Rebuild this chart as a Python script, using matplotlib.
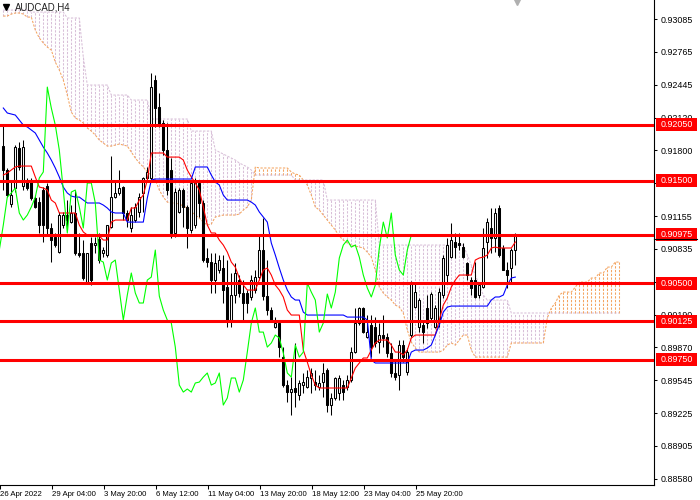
import numpy as np
import matplotlib
matplotlib.use("Agg")
import matplotlib.pyplot as plt
from matplotlib.patches import Rectangle

plt.rcParams['font.family'] = ['Liberation Sans', 'DejaVu Sans']

# === DATA (AUDCAD H4) ===
symbol = "AUDCAD,H4"

opens = [
    0.91842, 0.91607, 0.91274, 0.91431, 0.91823, 0.91450, 0.91490, 0.91509, 0.91333, 0.91293,
    0.91411, 0.91450, 0.91039, 0.90950, 0.90803, 0.91068, 0.91166, 0.91097, 0.91186, 0.90794,
    0.90794, 0.90509, 0.90892, 0.90872, 0.90931, 0.90794, 0.90774, 0.91048, 0.91342, 0.91382,
    0.91440, 0.91186, 0.91039, 0.91117, 0.91196, 0.91382, 0.91529, 0.91529, 0.92489, 0.92224,
    0.92068, 0.91803, 0.91607, 0.90990, 0.91196, 0.91411, 0.91245, 0.91019, 0.91068, 0.91480,
    0.91284, 0.90745, 0.90705, 0.90529, 0.90627, 0.90647, 0.90460, 0.90137, 0.90382, 0.90529,
    0.90402, 0.90402, 0.90363, 0.90431, 0.90558, 0.90823, 0.90372, 0.90235, 0.90068, 0.90108,
    0.89774, 0.89500, 0.89431, 0.89471, 0.89402, 0.89500, 0.89480, 0.89569, 0.89529, 0.89480,
    0.89529, 0.89647, 0.89304, 0.89373, 0.89422, 0.89500, 0.89480, 0.89549, 0.89823, 0.90108,
    0.90255, 0.89970, 0.90088, 0.90068, 0.89921, 0.89990, 0.89970, 0.89814, 0.89618, 0.89598,
    0.89892, 0.89627, 0.89990, 0.90264, 0.90068, 0.90088, 0.90255, 0.90157, 0.90068, 0.90117,
    0.90382, 0.90578, 0.90754, 0.90901, 0.90892, 0.90852, 0.90696, 0.90529, 0.90529, 0.90382,
    0.90460, 0.90901, 0.91039, 0.90941, 0.91235, 0.90843, 0.90627, 0.90647, 0.90823,
]
highs = [
    0.92038, 0.91627, 0.91509, 0.91852, 0.91881, 0.91901, 0.91529, 0.91529, 0.91362, 0.91342,
    0.91440, 0.91480, 0.91088, 0.90990, 0.91196, 0.91196, 0.91313, 0.91264, 0.91411, 0.90990,
    0.90921, 0.90794, 0.90950, 0.90950, 0.90990, 0.90852, 0.91068, 0.91744, 0.91509, 0.91607,
    0.91450, 0.91215, 0.91245, 0.91284, 0.91382, 0.91539, 0.91637, 0.92558, 0.92538, 0.92362,
    0.92097, 0.92068, 0.91725, 0.91431, 0.91431, 0.91431, 0.91264, 0.91509, 0.91529, 0.91509,
    0.91313, 0.90843, 0.90794, 0.90794, 0.90774, 0.90774, 0.90725, 0.90598, 0.90696, 0.90578,
    0.90529, 0.90431, 0.90578, 0.90627, 0.90970, 0.91137, 0.90725, 0.90264, 0.90166, 0.90137,
    0.89872, 0.89549, 0.89578, 0.89912, 0.89549, 0.89618, 0.89647, 0.89667, 0.89647, 0.89598,
    0.89716, 0.89667, 0.89422, 0.89578, 0.89598, 0.89549, 0.89598, 0.89872, 0.90255, 0.90264,
    0.90264, 0.90186, 0.90186, 0.90166, 0.90108, 0.90186, 0.90010, 0.89912, 0.89745, 0.89941,
    0.89941, 0.89863, 0.90519, 0.90509, 0.90353, 0.90117, 0.90382, 0.90411, 0.90284, 0.90451,
    0.90774, 0.90941, 0.91088, 0.90990, 0.90990, 0.90892, 0.90705, 0.90558, 0.90705, 0.90509,
    0.91039, 0.91137, 0.91235, 0.91235, 0.91264, 0.90872, 0.90705, 0.90843, 0.90990,
]
lows = [
    0.91411, 0.91342, 0.91245, 0.91391, 0.91607, 0.91411, 0.91411, 0.91313, 0.91235, 0.90990,
    0.90901, 0.90970, 0.90705, 0.90852, 0.90794, 0.91039, 0.91019, 0.91088, 0.90774, 0.90754,
    0.90529, 0.90490, 0.90480, 0.90794, 0.90696, 0.90754, 0.90754, 0.91039, 0.91333, 0.91362,
    0.91117, 0.91048, 0.91000, 0.91097, 0.91147, 0.91196, 0.91509, 0.91509, 0.92029, 0.92029,
    0.91754, 0.91362, 0.90941, 0.90950, 0.91186, 0.91048, 0.90843, 0.90990, 0.91039, 0.91147,
    0.90705, 0.90656, 0.90402, 0.90402, 0.90598, 0.90304, 0.90068, 0.90068, 0.90304, 0.90363,
    0.90137, 0.90206, 0.90333, 0.90402, 0.90529, 0.90333, 0.90186, 0.90117, 0.90059, 0.89774,
    0.89480, 0.89333, 0.89206, 0.89284, 0.89353, 0.89422, 0.89471, 0.89422, 0.89451, 0.89451,
    0.89383, 0.89235, 0.89206, 0.89353, 0.89353, 0.89353, 0.89451, 0.89529, 0.89814, 0.90088,
    0.90010, 0.89961, 0.89774, 0.89872, 0.89814, 0.89872, 0.89774, 0.89578, 0.89549, 0.89451,
    0.89725, 0.89598, 0.89970, 0.90255, 0.90019, 0.89912, 0.90059, 0.90117, 0.90059, 0.90068,
    0.90353, 0.90509, 0.90745, 0.90745, 0.90823, 0.90745, 0.90529, 0.90382, 0.90353, 0.90353,
    0.90451, 0.90745, 0.90794, 0.90803, 0.90754, 0.90627, 0.90451, 0.90500, 0.90676,
]
closes = [
    0.91607, 0.91362, 0.91362, 0.91832, 0.91637, 0.91832, 0.91431, 0.91333, 0.91245, 0.91068,
    0.91068, 0.91039, 0.90921, 0.90872, 0.91166, 0.91166, 0.91117, 0.91186, 0.90794, 0.90774,
    0.90549, 0.90794, 0.90529, 0.90892, 0.90725, 0.90823, 0.91068, 0.91342, 0.91382, 0.91431,
    0.91186, 0.91117, 0.91166, 0.91245, 0.91342, 0.91529, 0.91588, 0.92420, 0.92215, 0.92048,
    0.91803, 0.91411, 0.90990, 0.91391, 0.91411, 0.91245, 0.91039, 0.91480, 0.91480, 0.91284,
    0.90725, 0.90705, 0.90529, 0.90696, 0.90725, 0.90431, 0.90137, 0.90382, 0.90598, 0.90402,
    0.90304, 0.90304, 0.90529, 0.90558, 0.90823, 0.90372, 0.90235, 0.90137, 0.90108, 0.89872,
    0.89500, 0.89431, 0.89461, 0.89431, 0.89520, 0.89529, 0.89578, 0.89618, 0.89500, 0.89520,
    0.89618, 0.89304, 0.89373, 0.89569, 0.89569, 0.89431, 0.89549, 0.89823, 0.90108, 0.90255,
    0.90019, 0.90019, 0.89872, 0.89912, 0.89990, 0.89961, 0.89814, 0.89618, 0.89578, 0.89892,
    0.89774, 0.89823, 0.90500, 0.90411, 0.90333, 0.90019, 0.90108, 0.90392, 0.90255, 0.90411,
    0.90745, 0.90872, 0.90921, 0.90852, 0.90872, 0.90754, 0.90578, 0.90451, 0.90363, 0.90480,
    0.90843, 0.91097, 0.90941, 0.91186, 0.90774, 0.90627, 0.90578, 0.90823, 0.90970,
]

# Ichimoku lines as drawn on the chart
tenkan = ([0.91558, 0.91578, 0.91607, 0.91637] + [0.91646] * 4
          + [0.91539, 0.91440, 0.91431, 0.91411, 0.91313, 0.91284] + [0.91186] * 5
          + [0.91068, 0.91000] + [0.90970] * 3 + [0.90960, 0.90921, 0.90921, 0.91097]
          + [0.91117] * 4 + [0.91235] * 2 + [0.91313, 0.91362, 0.91509]
          + [0.91774] * 4 + [0.91734] * 4
          + [0.91705, 0.91607, 0.91539, 0.91480, 0.91411, 0.91245, 0.91068] + [0.90990] * 2
          + [0.90921, 0.90872, 0.90803, 0.90705, 0.90656, 0.90549, 0.90480] + [0.90431] * 3
          + [0.90529, 0.90627, 0.90647, 0.90578, 0.90480, 0.90431, 0.90363, 0.90235]
          + [0.90186] * 3 + [0.89843, 0.89725, 0.89598, 0.89500] + [0.89471] * 8
          + [0.89569, 0.89667, 0.89716] + [0.89765] * 2 + [0.89843, 0.89912]
          + [0.89941] * 3 + [0.89892] + [0.89823] * 2 + [0.89794, 0.89843, 0.89961]
          + [0.89990] * 6 + [0.90137, 0.90284, 0.90353, 0.90460, 0.90529] + [0.90578] * 4
          + [0.90725, 0.90745, 0.90754, 0.90774, 0.90843, 0.90852] + [0.90843] * 4 + [0.90901])

kijun = ([0.92215, 0.92166, 0.92156, 0.92146, 0.92097, 0.92048, 0.92029, 0.91999, 0.91970,
          0.91901, 0.91832, 0.91774, 0.91705, 0.91627, 0.91539, 0.91440, 0.91382, 0.91352]
         + [0.91342] * 2 + [0.91313] + [0.91284] * 4 + [0.91264, 0.91235, 0.91196]
         + [0.91186] * 3 + [0.91097] * 5 + [0.91333, 0.91509] + [0.91519] * 10
         + [0.91637] * 4 + [0.91558, 0.91490, 0.91460, 0.91362] + [0.91313] * 6
         + [0.91293, 0.91264, 0.91196, 0.91147, 0.91097, 0.90892, 0.90774, 0.90647,
            0.90529, 0.90431, 0.90363]
         + [0.90333] * 2 + [0.90215] + [0.90186] * 10 + [0.90166] * 5 + [0.90137, 0.89745]
         + [0.89716] * 9 + [0.89823] + [0.89843] * 3
         + [0.89863, 0.89892, 0.89990, 0.90088, 0.90215, 0.90264] + [0.90274] * 10
         + [0.90333] + [0.90363] * 2 + [0.90382, 0.90480, 0.90549, 0.90558])

senkou_a = ([0.93116] * 2 + [0.93136] + [0.93146] * 2 + [0.93136] + [0.93106] * 2
            + [0.92979, 0.92901, 0.92852, 0.92812, 0.92783, 0.92665, 0.92587, 0.92489, 0.92342,
               0.92175, 0.92117, 0.92097, 0.92068, 0.92019, 0.91989, 0.91950, 0.91901, 0.91872]
            + [0.91842] * 2 + [0.91852, 0.91862, 0.91852, 0.91842]
            + [0.91783, 0.91725, 0.91676, 0.91637, 0.91588, 0.91558, 0.91509, 0.91411, 0.91342,
               0.91293]
            + [0.91284] * 2
            + [0.91274, 0.91254, 0.91235, 0.91205, 0.91166, 0.91137, 0.91097, 0.91068, 0.91078,
               0.91147, 0.91156]
            + [0.91166] * 4 + [0.91176, 0.91215, 0.91245, 0.91313, 0.91637] + [0.91627] * 8
            + [0.91588, 0.91568, 0.91558, 0.91509, 0.91460, 0.91362, 0.91245, 0.91215, 0.91166,
               0.91117, 0.91068, 0.91019, 0.90960, 0.90921, 0.90892, 0.90872, 0.90862, 0.90852,
               0.90843, 0.90803, 0.90754, 0.90627, 0.90460, 0.90402, 0.90363, 0.90333, 0.90284,
               0.90264, 0.90206, 0.90039, 0.89921, 0.89863]
            + [0.89823] * 6 + [0.89843, 0.89892, 0.89912, 0.89892, 0.89941] + [0.89990] * 2
            + [0.89843] + [0.89774] * 9 + [0.89912] * 9 + [0.90157, 0.90255, 0.90304, 0.90382]
            + [0.90411] * 3 + [0.90460] + [0.90509] * 3 + [0.90549] * 2 + [0.90598] * 2
            + [0.90656] * 2 + [0.90705] * 2)

senkou_b = ([0.93175] * 7 + [0.93155] * 9 + [0.93097] * 4 + [0.92714] + [0.92440] * 6
            + [0.92342] * 5 + [0.92293] * 5 + [0.92107] * 10 + [0.91989] * 6
            + [0.91803, 0.91783, 0.91764, 0.91744, 0.91725, 0.91705, 0.91676, 0.91656, 0.91637,
               0.91607]
            + [0.91558] * 10 + [0.91509] * 8 + [0.91313] * 13 + [0.90872] * 22
            + [0.90774, 0.90676, 0.90578, 0.90480, 0.90382] + [0.90333] * 6 + [0.90206] * 28)

chikou_shift = 26

levels = [0.92050, 0.91500, 0.90975, 0.90500, 0.90125, 0.89750]
bid_price = 0.90928

y_ticks = [0.93085, 0.92765, 0.92445, 0.92120, 0.91800, 0.91480, 0.91155, 0.90835,
           0.90510, 0.90190, 0.89870, 0.89545, 0.89225, 0.88905, 0.88580]
x_tick_bars = [-0.8, 12.2, 25.2, 38.2, 51.2, 64.2, 77.2, 90.2, 103.2]
x_tick_labels = ["26 Apr 2022", "29 Apr 04:00", "3 May 20:00", "6 May 12:00",
                 "11 May 04:00", "13 May 20:00", "18 May 12:00", "23 May 04:00",
                 "25 May 20:00"]

# === STYLE ===
SANDY = '#F4A460'
THISTLE = '#D8BFD8'
DASH = (0, (2.2, 1.4))

fig = plt.figure(figsize=(7, 5), dpi=100)
ax = fig.add_axes([0, 15 / 500, 654 / 700, 485 / 500])

o = np.array(opens); h = np.array(highs); l = np.array(lows); c = np.array(closes)
x = np.arange(len(c))

# cloud: vertical hatch per bar, coloured by which span is on top
sa = np.array(senkou_a); sb = np.array(senkou_b)
xs = np.arange(len(sa))
bull = sa >= sb
ax.vlines(xs[bull], sb[bull], sa[bull], colors=SANDY, linestyles=DASH, lw=0.75, zorder=1)
ax.vlines(xs[~bull], sa[~bull], sb[~bull], colors=THISTLE, linestyles=DASH, lw=0.75, zorder=1)
ax.plot(xs, sa, color=SANDY, ls=DASH, lw=0.75, zorder=1.2)
ax.plot(xs, sb, color=THISTLE, ls=DASH, lw=0.75, zorder=1.2)

# candles
ax.vlines(x, l, h, color='black', lw=0.75, zorder=3)
up = c >= o
body_lo = np.minimum(o, c)
body_h = np.maximum(np.abs(c - o), 0.00002)
ax.bar(x[up], body_h[up], 0.5, bottom=body_lo[up], facecolor='white',
       edgecolor='black', lw=0.75, zorder=4)
ax.bar(x[~up], body_h[~up], 0.5, bottom=body_lo[~up], facecolor='black',
       edgecolor='black', lw=0.75, zorder=4)

# tenkan / kijun / chikou
ax.plot(x, tenkan, color='#ff0000', lw=0.8, zorder=5)
ax.plot(x, kijun, color='#0000ff', lw=0.8, zorder=5)
xc = np.arange(chikou_shift - 1, len(c)) - chikou_shift
ax.plot(xc, c[chikou_shift - 1:], color='#00ff00', lw=0.8, zorder=5)

# horizontal levels with price tags
ylo = 0.90500 - 202 * 0.000098
yhi = 0.90500 + 283 * 0.000098
box_h = 13 * 0.000098
ytr = ax.get_yaxis_transform()
for lv in levels:
    ax.axhline(lv, color='#ff0000', lw=2.2, zorder=6)
    ax.add_patch(Rectangle((1.0026, lv - box_h / 2), 0.0636, box_h, transform=ytr,
                           facecolor='#ff0000', edgecolor='none', clip_on=False, zorder=8))
    ax.text(1.0026 + 0.0318, lv, f"{lv:.5f}", transform=ytr, color='white', fontsize=6.4,
            ha='center', va='center', clip_on=False, zorder=9)
ax.plot([1.0, 1.0662], [bid_price, bid_price], transform=ytr, color='black', lw=0.8,
        clip_on=False, zorder=9)

# axes
ax.set_xlim(-0.825, 162.675)
ax.set_ylim(ylo, yhi)
for s in ['left', 'top']:
    ax.spines[s].set_visible(False)
for s in ['right', 'bottom']:
    ax.spines[s].set_linewidth(0.8)
ax.yaxis.tick_right()
ax.set_yticks(y_ticks)
ax.set_yticklabels([f"{v:.5f}" for v in y_ticks])
ax.tick_params(axis='y', direction='out', length=2.5, width=0.75, pad=2.5, labelsize=6.4)
ax.set_xticks(x_tick_bars)
ax.set_xticklabels(x_tick_labels, ha='left')
ax.tick_params(axis='x', direction='out', length=3, width=0.75, pad=1.0, labelsize=5.6)

# symbol caption and shift marker
ax.plot([6 / 654], [1 - 7 / 485], marker='v', ms=4, color='black', transform=ax.transAxes,
        clip_on=False, zorder=10)
ax.text(15 / 654, 1 - 7 / 485, symbol, transform=ax.transAxes, fontsize=6.9, color='#202020',
        ha='left', va='center', zorder=10)
ax.plot([128.4], [0.995], marker='v', ms=5, color='#b0b0b0',
        transform=ax.get_xaxis_transform(), clip_on=False, zorder=10)

fig.savefig("out.png", dpi=100)
